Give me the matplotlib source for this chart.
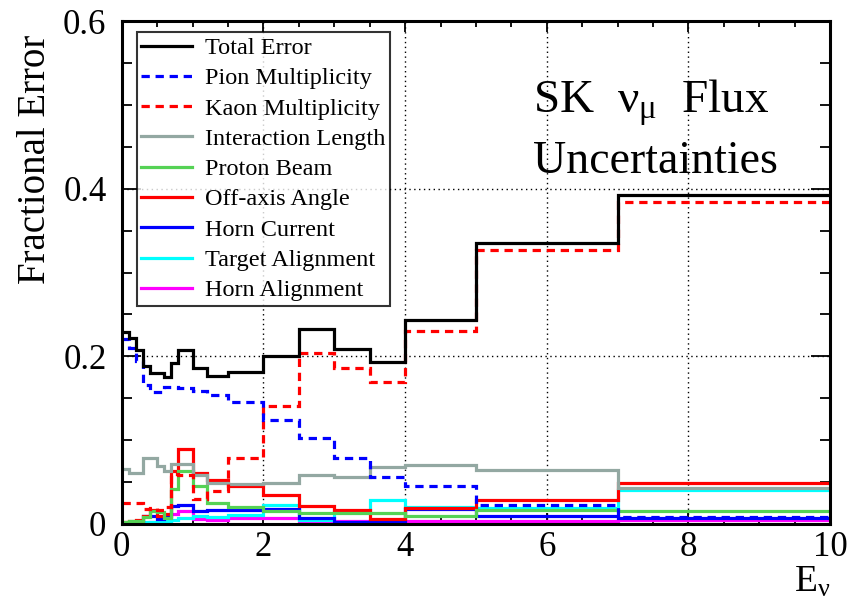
import numpy as np
import matplotlib
matplotlib.use('Agg')
import matplotlib.pyplot as plt
from matplotlib.ticker import MultipleLocator

# bin edges in E_nu (GeV)
edges = [0.0, 0.1, 0.2, 0.3, 0.4, 0.5, 0.6, 0.7, 0.8, 1.0, 1.2, 1.5,
         2.0, 2.5, 3.0, 3.5, 4.0, 5.0, 7.0, 10.0]

total_err = [0.229, 0.222, 0.208, 0.188, 0.180, 0.180, 0.175, 0.192, 0.208, 0.186,
             0.176, 0.181, 0.200, 0.233, 0.209, 0.193, 0.243, 0.335, 0.392]
pion_mult = [0.221, 0.210, 0.195, 0.166, 0.158, 0.158, 0.163, 0.164, 0.162, 0.159,
             0.154, 0.146, 0.124, 0.102, 0.079, 0.056, 0.0455, 0.0228, 0.0088]
kaon_mult = [0.025, 0.025, 0.025, 0.018, 0.019, 0.017, 0.020, 0.060, 0.058, 0.030,
             0.039, 0.079, 0.141, 0.204, 0.186, 0.170, 0.230, 0.327, 0.384]
int_length = [0.065, 0.061, 0.061, 0.079, 0.079, 0.069, 0.063, 0.071, 0.071, 0.059,
              0.049, 0.048, 0.049, 0.059, 0.056, 0.068, 0.070, 0.064, 0.043]
proton_beam = [0.002, 0.003, 0.004, 0.008, 0.015, 0.014, 0.007, 0.042, 0.063, 0.045,
               0.025, 0.020, 0.015, 0.013, 0.013, 0.013, 0.010, 0.017, 0.015]
off_axis = [0.002, 0.003, 0.005, 0.010, 0.017, 0.010, 0.012, 0.063, 0.089, 0.061,
            0.053, 0.045, 0.034, 0.021, 0.017, 0.006, 0.019, 0.029, 0.049]
horn_current = [0.001, 0.001, 0.004, 0.010, 0.010, 0.006, 0.010, 0.022, 0.023, 0.015,
                0.017, 0.017, 0.018, 0.007, 0.002, 0.004, 0.018, 0.009, 0.007]
target_align = [0.001, 0.001, 0.002, 0.002, 0.002, 0.002, 0.003, 0.005, 0.007, 0.009,
                0.008, 0.011, 0.023, 0.005, 0.016, 0.029, 0.020, 0.019, 0.040]
horn_align = [0.001, 0.001, 0.001, 0.001, 0.002, 0.002, 0.004, 0.012, 0.015, 0.006,
              0.005, 0.007, 0.007, 0.003, 0.003, 0.003, 0.004, 0.004, 0.005]

labels = ['Total Error', 'Pion Multiplicity', 'Kaon Multiplicity', 'Interaction Length',
          'Proton Beam', 'Off-axis Angle', 'Horn Current', 'Target Alignment',
          'Horn Alignment']
series = [total_err, pion_mult, kaon_mult, int_length, proton_beam, off_axis,
          horn_current, target_align, horn_align]
colors = ['black', '#0000ff', '#ff0000', '#93a8a2', '#55d255', '#ff0000',
          '#0000ff', '#00ffff', '#ff00ff']
dash = (0, (2.6, 1.8))
styles = ['-', dash, dash, '-', '-', '-', '-', '-', '-']

plt.rcParams['font.family'] = ['Liberation Serif', 'DejaVu Serif']
plt.rcParams['mathtext.fontset'] = 'custom'
plt.rcParams['mathtext.rm'] = 'Liberation Serif'
plt.rcParams['mathtext.it'] = 'Liberation Serif:italic'

fig = plt.figure(figsize=(8.48, 6.04), dpi=100)
ax = fig.add_axes([0.1435, 0.1325, 0.8355, 0.8325])

# draw from the back so total error sits on top
handles = [None] * len(series)
for i in reversed(range(len(series))):
    h = ax.stairs(series[i], edges, baseline=None, color=colors[i],
                  linestyle=styles[i], linewidth=2.3, label=labels[i])
    handles[i] = h

ax.set_xlim(0, 10)
ax.set_ylim(0, 0.6)
ax.xaxis.set_major_locator(MultipleLocator(2))
ax.xaxis.set_minor_locator(MultipleLocator(0.5))
ax.yaxis.set_major_locator(MultipleLocator(0.2))
ax.yaxis.set_minor_locator(MultipleLocator(0.05))
ax.xaxis.set_major_formatter(plt.FuncFormatter(lambda v, p: '%g' % v))
ax.yaxis.set_major_formatter(plt.FuncFormatter(lambda v, p: '%g' % v))

ax.tick_params(axis='both', which='both', direction='in', top=True, right=True,
               labelsize=25, width=1.3)
ax.tick_params(axis='y', which='major', length=14, pad=11)
ax.tick_params(axis='y', which='minor', length=7)
ax.tick_params(axis='x', which='major', length=8, pad=5)
ax.tick_params(axis='x', which='minor', length=4)
for s in ax.spines.values():
    s.set_linewidth(2.2)

ax.grid(True, which='major', color='black', linestyle=(0, (1, 2.5)), linewidth=1.0)
ax.set_axisbelow(True)

ax.set_ylabel('Fractional Error', fontsize=28, loc='top')
ax.yaxis.set_label_coords(-0.095, 0.972)
ax.text(1.0, -0.082, 'E$_{\\mathrm{ν}}$', transform=ax.transAxes, ha='right',
        va='top', fontsize=27)

leg = ax.legend(handles=handles, labels=labels, loc='upper left',
                bbox_to_anchor=(0.021, 0.978), fontsize=17.5, frameon=True,
                fancybox=False, edgecolor='black', handlelength=2.1,
                handletextpad=0.5, labelspacing=0.34, borderpad=0.2,
                borderaxespad=0)
leg.get_frame().set_linewidth(1.5)

fig.text(0.768, 0.83, 'SK  ν$_{\\mathrm{μ}}$  Flux', fontsize=34, ha='center',
         va='center')
fig.text(0.773, 0.733, 'Uncertainties', fontsize=33, ha='center', va='center')

fig.savefig('out.png', dpi=100)
